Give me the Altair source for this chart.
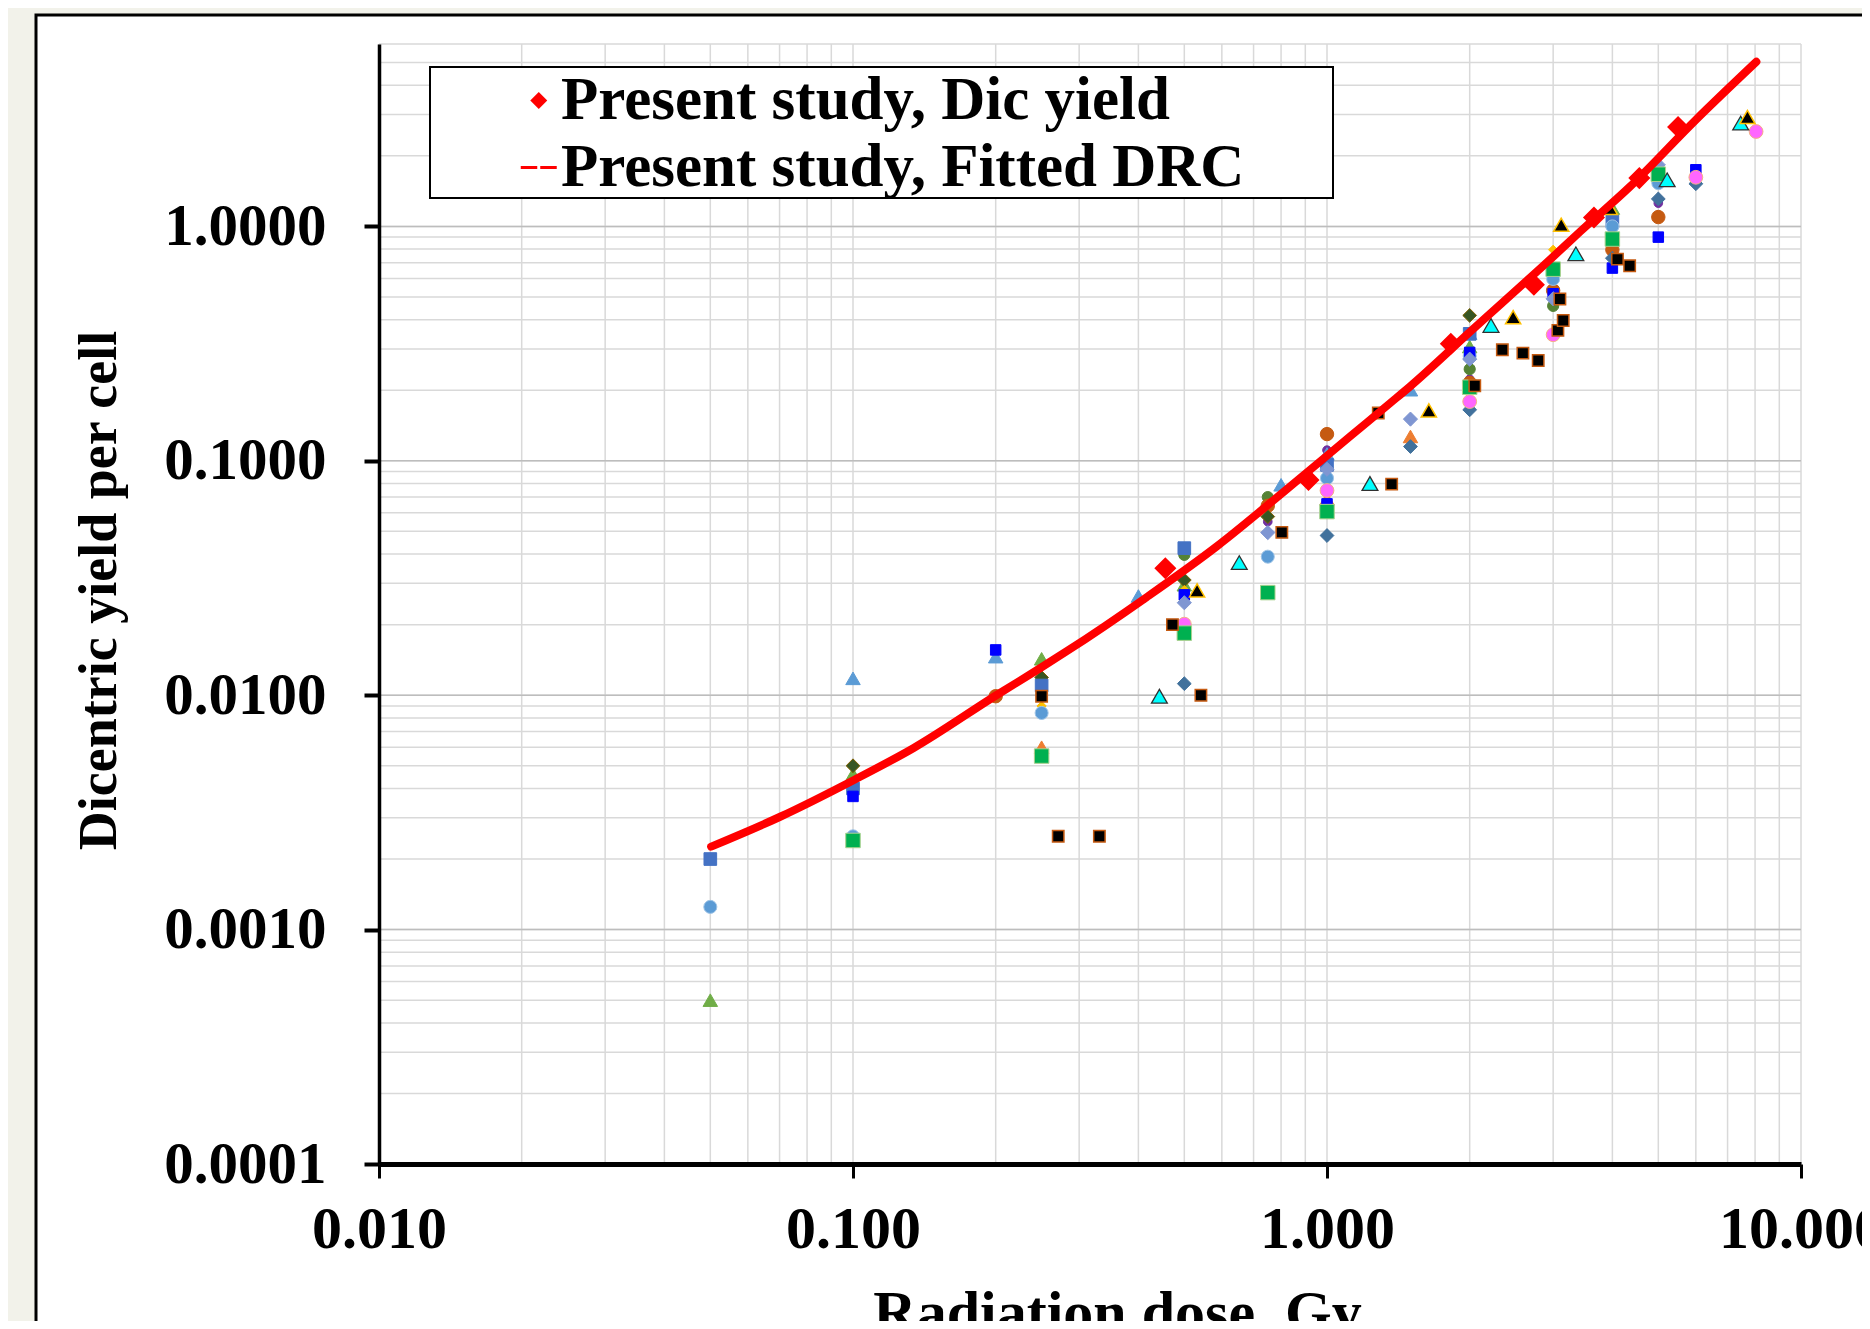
import altair as alt
import pandas as pd

# ---------------- axis ticks / grid ----------------
X_DECADES = [0.01, 0.1, 1.0, 10.0]
Y_DECADES = [0.0001, 0.001, 0.01, 0.1, 1.0]
GRID_MULTIPLIERS = [1, 2, 3, 4, 5, 6, 7, 8, 9]
X_MIN, X_MAX = 0.01, 10.0
Y_MIN, Y_MAX = 0.0001, 6.0

X_GRID = [m * d for d in X_DECADES[:-1] for m in GRID_MULTIPLIERS] + [X_MAX]
Y_GRID = [m * d for d in Y_DECADES[:-1] for m in GRID_MULTIPLIERS] + \
         [m * Y_DECADES[-1] for m in GRID_MULTIPLIERS if m * Y_DECADES[-1] <= Y_MAX]

# ---------------- present study ----------------
LEGEND_LABELS = ["Present study, Dic yield", "Present study, Fitted DRC"]
PRESENT_DOSE = [0.456, 0.914, 1.825, 2.732, 3.658, 4.56, 5.504]
PRESENT_YIELD = [0.0348, 0.0829, 0.3155, 0.5633, 1.091, 1.607, 2.653]

FIT_DOSE = [0.0502, 0.0702, 0.1005, 0.134, 0.201, 0.248, 0.2825, 0.4164, 0.585,
            0.809, 1.118, 1.358, 1.496, 2.004, 3.003, 3.42, 4.36, 6.0, 8.05]
FIT_YIELD = [0.00226, 0.00303, 0.00435, 0.00594, 0.01002, 0.01303, 0.0154, 0.0262, 0.0431,
             0.0735, 0.1269, 0.176, 0.2073, 0.355, 0.744, 0.95, 1.48, 2.85, 5.04]

# ---------------- other studies (dose Gy, yield per cell) ----------------
ORANGE_TRIANGLES = [(0.25, 0.006), (1.0, 0.0688), (1.5, 0.127)]
PURPLE_CIRCLES = [(0.75, 0.055), (1.0, 0.111), (2.0, 0.223), (5.0, 1.257)]
DARK_GREEN_CIRCLES = [(0.5, 0.0397), (0.75, 0.070), (2.0, 0.246), (3.0, 0.458)]
LIGHT_BLUE_TRIANGLES = [(0.1, 0.0118), (0.2, 0.0146), (0.4, 0.0265), (0.8, 0.079),
                        (1.0, 0.107), (1.5, 0.201), (2.0, 0.35)]
ORANGE_CIRCLES = [(0.2, 0.0099), (0.75, 0.0643), (1.0, 0.130), (2.0, 0.215),
                  (3.0, 0.533), (4.0, 0.795), (5.0, 1.096)]
GREEN_TRIANGLES = [(0.05, 0.0005), (0.1, 0.0046), (0.25, 0.0143), (0.5, 0.0296),
                   (2.0, 0.307), (4.0, 1.197)]
OLIVE_DIAMONDS = [(0.1, 0.005), (0.25, 0.0119), (0.5, 0.031), (0.75, 0.0578), (2.0, 0.417)]
STEEL_SQUARES = [(0.05, 0.0020), (0.1, 0.0040), (0.25, 0.011), (0.5, 0.0424),
                 (1.0, 0.096), (2.0, 0.348), (4.0, 1.05)]
GOLD_MARKERS = [(0.25, 0.009), (0.5, 0.0281), (0.75, 0.028), (3.0, 0.795)]
LIGHT_BLUE_CIRCLES = [(0.05, 0.00125), (0.1, 0.0025), (0.25, 0.0084), (0.75, 0.039),
                      (1.0, 0.0843), (2.0, 0.28), (3.0, 0.597), (4.0, 1.0), (5.0, 1.53)]
BLUE_SQUARES = [(0.1, 0.0037), (0.2, 0.0156), (0.5, 0.0268), (1.0, 0.0655), (2.0, 0.29),
                (3.0, 0.516), (4.0, 0.664), (5.0, 0.90), (6.0, 1.744)]
LAVENDER_DIAMONDS = [(0.5, 0.0248), (0.75, 0.0494), (1.0, 0.092), (1.5, 0.1506),
                     (2.0, 0.2714), (3.0, 0.491), (5.0, 1.83)]
STEEL_DIAMONDS = [(0.5, 0.0112), (1.0, 0.048), (1.5, 0.115), (2.0, 0.165),
                  (4.0, 0.732), (5.0, 1.31), (6.0, 1.52)]
PINK_CIRCLES = [(0.5, 0.0201), (1.0, 0.0747), (2.0, 0.179), (3.0, 0.345), (6.0, 1.62), (8.04, 2.54)]
GREEN_SQUARES = [(0.1, 0.0024), (0.25, 0.0055), (0.5, 0.0184), (0.75, 0.0274), (1.0, 0.0607),
                 (2.0, 0.206), (3.0, 0.657), (4.0, 0.883), (5.0, 1.67)]
BLACK_SQUARES = [(0.25, 0.0099), (0.271, 0.0025), (0.331, 0.0025), (0.472, 0.020), (0.542, 0.010),
                 (0.803, 0.0495), (1.283, 0.160), (1.369, 0.0795), (2.05, 0.209), (2.344, 0.2975),
                 (2.59, 0.288), (2.79, 0.268), (3.07, 0.36), (3.10, 0.49), (3.15, 0.397),
                 (4.1, 0.725), (4.35, 0.679)]
CYAN_TRIANGLES = [(0.443, 0.0099), (0.653, 0.0368), (1.232, 0.080), (2.218, 0.378),
                  (3.35, 0.764), (5.22, 1.58), (7.46, 2.76)]
BLACK_TRIANGLES = [(0.532, 0.028), (1.64, 0.164), (2.47, 0.41), (3.12, 1.016),
                   (3.95, 1.2), (7.71, 2.93)]

# style per series: (points, shape, fill, stroke, strokeWidth, size)
SERIES_STYLES = [
    (ORANGE_TRIANGLES, "triangle-up", "#ED7D31", "#ED7D31", 1, 210),
    (PURPLE_CIRCLES, "circle", "#7030A0", "#7030A0", 1, 75),
    (DARK_GREEN_CIRCLES, "circle", "#548235", "#548235", 1, 125),
    (LIGHT_BLUE_TRIANGLES, "triangle-up", "#5B9BD5", "#5B9BD5", 1, 210),
    (ORANGE_CIRCLES, "circle", "#C55A11", "#C55A11", 1, 180),
    (GREEN_TRIANGLES, "triangle-up", "#70AD47", "#70AD47", 1, 210),
    (OLIVE_DIAMONDS, "diamond", "#375623", "#7F6000", 1, 190),
    (STEEL_SQUARES, "square", "#4472C4", "#4472C4", 1, 160),
    (GOLD_MARKERS, "diamond", "#FFC000", "#FFC000", 1, 85),
    (LIGHT_BLUE_CIRCLES, "circle", "#5B9BD5", "#9DC3E6", 1, 170),
    (BLUE_SQUARES, "square", "#0000FF", "#0000FF", 1, 110),
    (LAVENDER_DIAMONDS, "diamond", "#7F96D2", "#7F96D2", 1, 200),
    (STEEL_DIAMONDS, "diamond", "#41719C", "#41719C", 1, 190),
    (PINK_CIRCLES, "circle", "#FF66FF", "#F4B183", 1, 190),
    (GREEN_SQUARES, "square", "#00B050", "#A9D18E", 1, 210),
    (BLACK_SQUARES, "square", "#000000", "#C55A11", 1.5, 130),
    (CYAN_TRIANGLES, "triangle-up", "#00FFFF", "#303030", 1.3, 250),
    (BLACK_TRIANGLES, "triangle-up", "#000000", "#FFC000", 1.5, 230),
]

FONT = "Liberation Serif"
xs = alt.Scale(type="log", domain=[X_MIN, X_MAX], nice=False)
ys = alt.Scale(type="log", domain=[Y_MIN, Y_MAX], nice=False)

x_axis = alt.Axis(
    values=X_DECADES, format=".3f", grid=False, title="Radiation dose, Gy",
    labelFlush=False, labelOverlap=False, labelFontSize=60, labelPadding=22,
    tickSize=14, tickWidth=3, domainWidth=5, zindex=1,
    titleFontSize=60, titleX=738, titleY=120, titleBaseline="top", titleAlign="center",
)
y_axis = alt.Axis(
    values=Y_DECADES, format=".4f", grid=False, title="Dicentric yield per cell",
    labelFlush=False, labelOverlap=False, labelFontSize=59, labelPadding=38,
    tickSize=15, tickWidth=4, domainWidth=3.5, zindex=1,
    titleFontSize=54, titleX=-280, titleY=546, titleAngle=270,
    titleBaseline="middle", titleAlign="center",
)

# slide frame and legend box (decoration)
frame = alt.Chart(pd.DataFrame({"k": [0]})).mark_rect(
    fill="white", stroke="black", strokeWidth=3
).encode(x=alt.value(-343), x2=alt.value(1700), y=alt.value(-29), y2=alt.value(1500))

grid_x = alt.Chart(pd.DataFrame({"g": X_GRID})).mark_rule(
    color="#D9D9D9", strokeWidth=1.5
).encode(x=alt.X("g:Q", scale=xs, axis=x_axis))
grid_y = alt.Chart(pd.DataFrame({"g": Y_GRID})).mark_rule(
    color="#D9D9D9", strokeWidth=1.5
).encode(y=alt.Y("g:Q", scale=ys, axis=y_axis))
grid_y_major = alt.Chart(pd.DataFrame({"g": Y_DECADES})).mark_rule(
    color="#BDBDBD", strokeWidth=1.5
).encode(y=alt.Y("g:Q", scale=ys, axis=y_axis))

layers = [frame, grid_x, grid_y, grid_y_major]
for pts, shape, fill, stroke, sw, size in SERIES_STYLES:
    df = pd.DataFrame(pts, columns=["dose", "yield"])
    layers.append(
        alt.Chart(df).mark_point(
            shape=shape, filled=True, fill=fill, stroke=stroke, strokeWidth=sw,
            size=size, opacity=1
        ).encode(
            x=alt.X("dose:Q", scale=xs, axis=x_axis),
            y=alt.Y("yield:Q", scale=ys, axis=y_axis),
        )
    )

fit_df = pd.DataFrame({"dose": FIT_DOSE, "yield": FIT_YIELD})
fit_line = alt.Chart(fit_df).mark_line(
    color="#FF0000", strokeWidth=8, strokeCap="round", strokeJoin="round",
    interpolate="monotone",
).encode(
    x=alt.X("dose:Q", scale=xs, axis=x_axis),
    y=alt.Y("yield:Q", scale=ys, axis=y_axis),
)

legend_box = alt.Chart(pd.DataFrame({"k": [0]})).mark_rect(
    fill="white", stroke="black", strokeWidth=2
).encode(x=alt.value(51), x2=alt.value(954), y=alt.value(23), y2=alt.value(154))

# legend glyphs: diamond and short red dashes (shifted right within the symbol box)
DIAMOND_PATH = "M1.1,-1.13L2.23,0L1.1,1.13L-0.03,0Z"
DASH_PATH = "M-1.3,-0.2H0.9V0.2H-1.3Z M1.3,-0.2H3.5V0.2H1.3Z"
CHART_DIAMOND = "M0,-1.13L1.13,0L0,1.13L-1.13,0Z"

present_df = pd.DataFrame({
    "dose": PRESENT_DOSE, "yield": PRESENT_YIELD,
    "series": [LEGEND_LABELS[0]] * len(PRESENT_DOSE),
})
present_points = alt.Chart(present_df).mark_point(
    shape=CHART_DIAMOND, filled=True, fill="#FF0000", stroke="#FF0000",
    strokeWidth=2, size=290, opacity=1
).encode(
    x=alt.X("dose:Q", scale=xs, axis=x_axis),
    y=alt.Y("yield:Q", scale=ys, axis=y_axis),
)
# invisible twin of the diamonds that carries the legend
present_legend = alt.Chart(present_df).mark_point(
    filled=True, fill="#FF0000", size=1, opacity=0
).encode(
    x=alt.X("dose:Q", scale=xs, axis=x_axis),
    y=alt.Y("yield:Q", scale=ys, axis=y_axis),
    shape=alt.Shape(
        "series:N",
        scale=alt.Scale(domain=LEGEND_LABELS, range=[DIAMOND_PATH, DASH_PATH]),
        legend=alt.Legend(
            title=None, orient="none", legendX=51, legendY=23, padding=3,
            labelFont=FONT, labelFontSize=61, labelFontWeight="bold", labelColor="black",
            labelLimit=3000, labelOffset=0, rowPadding=5,
            symbolSize=225, symbolOffset=67, symbolOpacity=1,
            symbolFillColor="#FF0000", symbolStrokeWidth=0,
            zindex=1,
        ),
    ),
)

layers += [fit_line, legend_box, present_points, present_legend]

chart = alt.layer(*layers).properties(
    width=1422, height=1120,
    padding={"left": 371, "top": 36, "right": 61, "bottom": 157},
    autosize=alt.AutoSizeParams(type="none"),
    background="#F2F2EA",
).configure_axis(
    labelFont=FONT, labelFontWeight="bold", labelColor="black",
    titleFont=FONT, titleFontWeight="bold", titleColor="black",
    domainColor="black", tickColor="black",
).configure_view(stroke=None)

chart.save("out.html", embed_options={"renderer": "svg", "actions": False})
